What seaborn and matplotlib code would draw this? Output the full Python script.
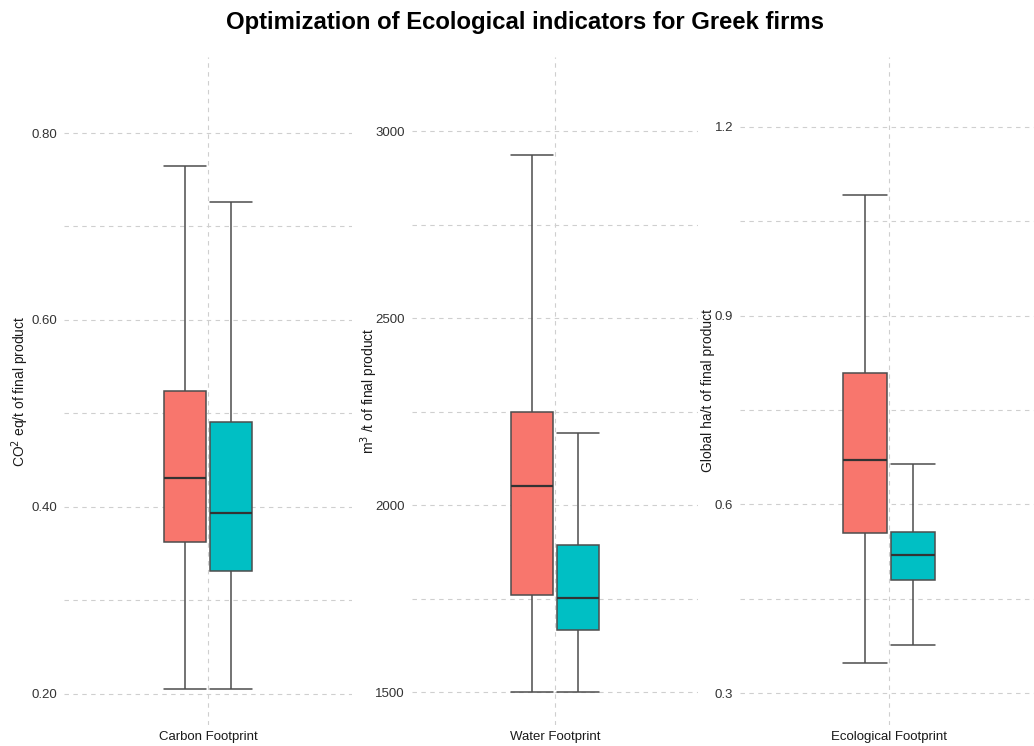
import numpy as np
import pandas as pd
import matplotlib
matplotlib.use("Agg")
import matplotlib.pyplot as plt
from matplotlib.ticker import FixedLocator
import seaborn as sns

# ---- data (five-number summaries: min, Q1, median, Q3, max)
categories = ["Carbon Footprint", "Water Footprint", "Ecological Footprint"]
groups = ["Current", "Optimized"]
carbon_current = [0.205, 0.362, 0.431, 0.524, 0.765]
carbon_optimized = [0.205, 0.331, 0.393, 0.491, 0.726]
water_current = [1500, 1761, 2052, 2248, 2935]
water_optimized = [1500, 1667, 1751, 1894, 2193]
eco_current = [0.348, 0.554, 0.670, 0.808, 1.092]
eco_optimized = [0.376, 0.480, 0.520, 0.556, 0.665]
ylabels = ["CO$^2$ eq/t of final product", "m$^3$ /t of final product",
           "Global ha/t of final product"]
major_ticks = [[0.20, 0.40, 0.60, 0.80], [1500, 2000, 2500, 3000], [0.3, 0.6, 0.9, 1.2]]
tick_labels = [["0.20", "0.40", "0.60", "0.80"], ["1500", "2000", "2500", "3000"],
               ["0.3", "0.6", "0.9", "1.2"]]
minor_ticks = [[0.30, 0.50, 0.70], [1750, 2250, 2750], [0.45, 0.75, 1.05]]
ylims = [(0.1663, 0.8814), (1412.6, 3197.8), (0.2497, 1.3107)]

series = {
    ("Carbon Footprint", "Current"): carbon_current,
    ("Carbon Footprint", "Optimized"): carbon_optimized,
    ("Water Footprint", "Current"): water_current,
    ("Water Footprint", "Optimized"): water_optimized,
    ("Ecological Footprint", "Current"): eco_current,
    ("Ecological Footprint", "Optimized"): eco_optimized,
}
rows = []
for (cat, grp), vals in series.items():
    for v in vals:
        rows.append({"indicator": cat, "scenario": grp, "value": v})
df = pd.DataFrame(rows)

palette = {"Current": "#F8766D", "Optimized": "#00BFC4"}

sns.set_style("white")
plt.rcParams["font.family"] = ["Liberation Sans", "DejaVu Sans"]

fig = plt.figure(figsize=(10.34, 7.46), dpi=100)
W, H = 1034, 746
panels_px = [(64, 288), (412, 286), (740, 298)]
bottom_px, top_px = 725, 57
label_x = [-0.115, -0.112, -0.084]

grid_kw = dict(color="#cfcfcf", linewidth=0.8, linestyle=(0, (4, 4)))

for i, cat in enumerate(categories):
    left, width = panels_px[i]
    ax = fig.add_axes([left / W, 1 - bottom_px / H, width / W, (bottom_px - top_px) / H])
    sub = df[df["indicator"] == cat]
    sns.boxplot(data=sub, x="indicator", y="value", hue="scenario",
                hue_order=groups, palette=palette, saturation=1,
                width=0.384, gap=0.086,
                whis=(0, 100), linecolor="#4d4d4d", linewidth=1.1,
                medianprops=dict(color="#333333", linewidth=1.6),
                legend=False, ax=ax, zorder=3)
    # widen caps to the box width (errorbar style)
    boxes = []
    for p in ax.patches:
        verts = p.get_path().vertices
        verts = p.get_transform().transform(verts)
        verts = ax.transData.inverted().transform(verts)
        boxes.append((verts[:, 0].min(), verts[:, 0].max()))
    for ln in ax.lines:
        xd, yd = np.asarray(ln.get_xdata(), float), np.asarray(ln.get_ydata(), float)
        if len(xd) == 2 and yd[0] == yd[1]:
            xc = xd.mean()
            for b0, b1 in boxes:
                if b0 <= xc <= b1:
                    ln.set_xdata([b0, b1])
    ax.set_xlim(-0.6, 0.6)
    ax.set_ylim(*ylims[i])
    ax.yaxis.set_major_locator(FixedLocator(major_ticks[i]))
    ax.set_yticklabels(tick_labels[i])
    ax.yaxis.set_minor_locator(FixedLocator(minor_ticks[i]))
    ax.grid(True, which="major", axis="both", **grid_kw)
    ax.grid(True, which="minor", axis="y", **grid_kw)
    ax.set_axisbelow(True)
    for s in ax.spines.values():
        s.set_visible(False)
    ax.tick_params(axis="y", which="major", length=3, color="#cfcfcf",
                   labelsize=9.5, labelcolor="#333333", pad=2)
    ax.tick_params(axis="y", which="minor", length=0)
    ax.tick_params(axis="x", length=3, color="#cfcfcf", labelsize=9.5,
                   labelcolor="#1a1a1a", pad=1.5)
    ax.set_xlabel("")
    ax.set_ylabel(ylabels[i], fontsize=10, color="#1a1a1a")
    ax.yaxis.set_label_coords(label_x[i], 0.5)

fig.text(525 / W, 1 - 23 / H, "Optimization of Ecological indicators for Greek firms",
         ha="center", va="center", fontsize=17.2, fontweight="bold", color="black")

fig.savefig("out.png", dpi=100)
